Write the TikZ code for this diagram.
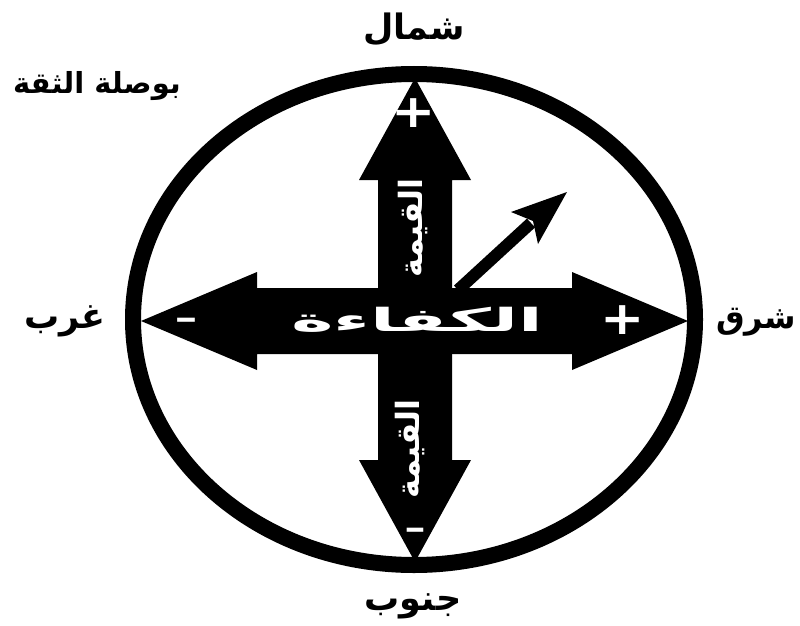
\documentclass[tikz,border=0pt]{standalone}
\usepackage{fontspec}
\TeXXeTstate=1
\newfontfamily\arabicfont[Script=Arabic]{DejaVu Sans}
\newfontfamily\signfont{DejaVu Sans}
\begin{document}
\begin{tikzpicture}[x=1pt,y=-1pt,
  lbl/.style={font=\arabicfont\bfseries\fontsize{35}{40}\selectfont, inner sep=0pt},
  titlelbl/.style={font=\arabicfont\bfseries\fontsize{29}{32}\selectfont, inner sep=0pt},
  inlbl/.style={text=white, font=\arabicfont\bfseries\fontsize{32}{36}\selectfont, inner sep=0pt},
  plussign/.style={text=white, font=\signfont\bfseries\fontsize{46}{46}\selectfont, inner sep=0pt},
  minussign/.style={text=white, font=\signfont\bfseries\fontsize{36}{36}\selectfont, inner sep=0pt, anchor=base},
  arrowbody/.style={fill=black},
  rim/.style={draw=black, line width=16pt}
]
\useasboundingbox (0,0) rectangle (800,626);
\fill[white] (0,0) rectangle (800,626);

% horizontal double arrow
\fill[arrowbody] (141,321) -- (257,272) -- (257,288) -- (572,288) -- (572,272)
  -- (688,321) -- (572,370) -- (572,354) -- (257,354) -- (257,370) -- cycle;
% vertical double arrow
\fill[arrowbody] (415,78) -- (471,180) -- (452,180) -- (452,460) -- (471,460)
  -- (415,562) -- (359,460) -- (378,460) -- (378,180) -- (359,180) -- cycle;

% rim
\draw[rim] (414,319.5) ellipse [x radius=281pt, y radius=245.5pt];

% diagonal arrow
\coordinate (dstart) at (458,290);
\coordinate (dnotch) at (531,223);
\coordinate (dtip) at (567,192);
\draw[line width=12pt] (dstart) -- (dnotch);
\fill[arrowbody] (dtip) -- (511,212) -- (533,221) -- (538,244) -- cycle;

% labels
\node[lbl] (north) at (414,29) {\beginR شمال\endR};
\node[lbl] (south) at (413,606) {\beginR جنوب\endR};
\node[lbl] (west) at (65,321) {\beginR غرب\endR};
\node[lbl, font=\arabicfont\bfseries\fontsize{32}{36}\selectfont] (east) at (756,322) {\beginR شرق\endR};
\node[titlelbl] (title) at (97,86) {\beginR بوصلة الثقة\endR};

\node[inlbl] (eff) at (417,320) {\scalebox{2.25}[1]{\beginR الكفاءة\endR}};
\node[inlbl, rotate=90] (valtop) at (413,228) {\beginR القيمة\endR};
\node[inlbl, rotate=90] (valbot) at (410,449) {\beginR القيمة\endR};

\node[plussign] (plustop) at (414,113) {\scalebox{1.15}[1]{+}};
\node[plussign] (plusright) at (623,320) {\scalebox{1.15}[1]{+}};
\node[minussign] (minusleft) at (186,328) {\scalebox{1.6}[0.8]{-}};
\node[minussign] (minusbot) at (415,538) {\scalebox{1.5}[0.8]{-}};
\end{tikzpicture}
\end{document}
